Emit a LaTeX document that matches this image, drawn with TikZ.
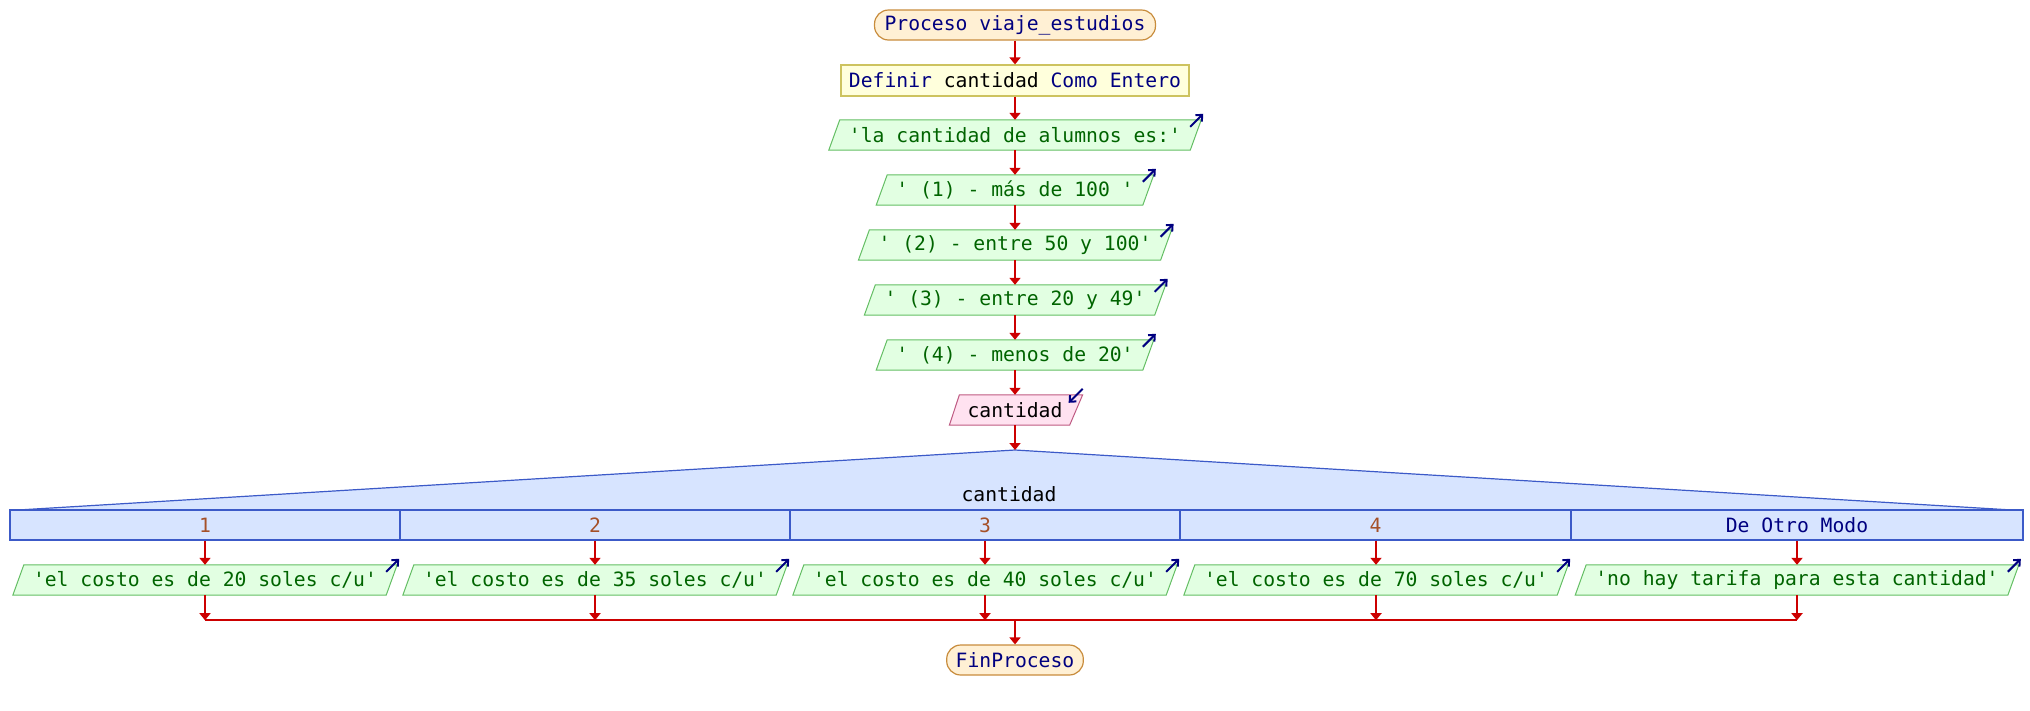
\documentclass[tikz,border=0pt]{standalone}
\usepackage{fontspec}
\setmonofont{DejaVu Sans Mono}
\usetikzlibrary{arrows.meta,calc}
\pgfdeclarelayer{background}
\pgfsetlayers{background,main}
\definecolor{flowred}{RGB}{204,0,0}
\definecolor{navy}{RGB}{0,0,128}
\definecolor{outgreen}{RGB}{0,100,0}
\definecolor{numbrown}{RGB}{165,80,40}
\definecolor{procfill}{RGB}{255,240,212}
\definecolor{procdraw}{RGB}{200,140,60}
\definecolor{deffill}{RGB}{255,255,220}
\definecolor{defdraw}{RGB}{205,195,95}
\definecolor{outfill}{RGB}{226,255,226}
\definecolor{outdraw}{RGB}{100,190,100}
\definecolor{infill}{RGB}{255,226,240}
\definecolor{indraw}{RGB}{190,90,130}
\definecolor{swfill}{RGB}{215,228,255}
\definecolor{swdraw}{RGB}{60,90,200}
\tikzset{
  txt/.style={font=\ttfamily\fontsize{19.7}{22}\selectfont},
  procbox/.style={txt, draw=procdraw, fill=procfill, line width=1.2pt, rounded corners=14pt,
    minimum height=30pt, inner xsep=10pt, inner ysep=0pt, text=navy},
  defbox/.style={txt, draw=defdraw, fill=deffill, line width=1.2pt,
    minimum height=31pt, inner xsep=8pt, inner ysep=0pt},
  outtxt/.style={txt, minimum height=30pt, inner sep=0pt, text=outgreen},
  outshape/.style={draw=outdraw, fill=outfill, line width=1pt},
  intxt/.style={txt, minimum height=30pt, inner sep=0pt, text=black},
  inshape/.style={draw=indraw, fill=infill, line width=1pt},
  icon/.style={draw=navy, line width=2pt, -{Straight Barb[length=5pt,width=9pt,line width=2pt]}},
  flow/.style={draw=flowred, line width=2.5pt, -{Triangle[length=7pt,width=11pt]}},
  flowline/.style={draw=flowred, line width=2.5pt},
  casebox/.style={txt, draw=swdraw, fill=swfill, line width=1.2pt, minimum height=30pt, inner sep=0pt, text=numbrown},
  swshape/.style={draw=swdraw, fill=swfill, line width=1.2pt},
}
\newcommand{\OutNode}[3]{%
  \node[outtxt] (#1) at (#2) {#3};
  \begin{pgfonlayer}{background}
    \draw[outshape] ($(#1.south west)+(-20,0)$) -- ($(#1.north west)+(-9,0)$) --
      ($(#1.north east)+(20,0)$) -- ($(#1.south east)+(9,0)$) -- cycle;
  \end{pgfonlayer}
  \draw[icon] ($(#1.north east)+(9,7)$) -- ($(#1.north east)+(22,-6)$);
}
\begin{document}
\begin{tikzpicture}[x=1pt,y=-1pt]
\useasboundingbox (0,0) rectangle (2030,710);

\node[procbox] (start) at (1015,25) {Proceso viaje\_estudios};
\node[defbox] (def) at (1015,80.5) {\textcolor{navy}{Definir} cantidad \textcolor{navy}{Como Entero}};
\OutNode{p1}{1015,135}{'la cantidad de alumnos es:'}
\OutNode{p2}{1015,190}{' (1) - más de 100 '}
\OutNode{p3}{1015,245}{' (2) - entre 50 y 100'}
\OutNode{p4}{1015,300}{' (3) - entre 20 y 49'}
\OutNode{p5}{1015,355}{' (4) - menos de 20'}

\node[intxt] (in) at (1015,410) {cantidad};
\begin{pgfonlayer}{background}
  \draw[inshape] ($(in.south west)+(-18,0)$) -- ($(in.north west)+(-8,0)$) --
    ($(in.north east)+(20,0)$) -- ($(in.south east)+(7,0)$) -- cycle;
\end{pgfonlayer}
\draw[icon] ($(in.north east)+(20,-6)$) -- ($(in.north east)+(6,8)$);

% switch
\coordinate (apex) at (1015,450);
\draw[swshape] (18,510) -- (apex) -- (2012,510);
\node[txt, text=black, inner sep=0pt] (sw) at (1009,494) {cantidad};
\node[casebox, minimum width=390pt] (c1) at (205,525) {1};
\node[casebox, minimum width=390pt] (c2) at (595,525) {2};
\node[casebox, minimum width=390pt] (c3) at (985,525) {3};
\node[casebox, minimum width=391pt] (c4) at (1375.5,525) {4};
\node[casebox, minimum width=452pt] (c5) at (1797,525) {\textcolor{navy}{De Otro Modo}};

\OutNode{o1}{205,580}{'el costo es de 20 soles c/u'}
\OutNode{o2}{595,580}{'el costo es de 35 soles c/u'}
\OutNode{o3}{985,580}{'el costo es de 40 soles c/u'}
\OutNode{o4}{1376,580}{'el costo es de 70 soles c/u'}
\OutNode{o5}{1797,580}{'no hay tarifa para esta cantidad'}

\node[procbox, inner xsep=9pt] (fin) at (1015,660) {FinProceso};

% connectors
\draw[flow] (start) -- (def);
\draw[flow] (def) -- (p1);
\draw[flow] (p1) -- (p2);
\draw[flow] (p2) -- (p3);
\draw[flow] (p3) -- (p4);
\draw[flow] (p4) -- (p5);
\draw[flow] (p5) -- (in);
\draw[flow] (in) -- (apex);
\foreach \i in {1,...,5}{
  \draw[flow] (o\i.north |- c\i.south) -- (o\i.north);
  \coordinate (m\i) at ($(o\i.south)+(0,25)$);
  \draw[flow] (o\i.south) -- (m\i);
}
\draw[flowline] (m1) -- (m5);
\coordinate (mc) at (1015,620);
\draw[flow] (mc) -- (fin);
\end{tikzpicture}
\end{document}
